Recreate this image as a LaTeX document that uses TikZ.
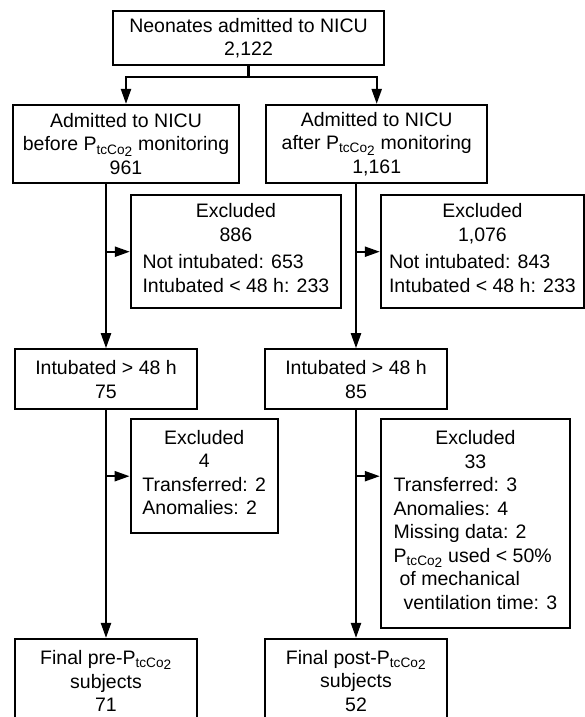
\documentclass[tikz,border=0pt]{standalone}
\usepackage{fontspec}
\setmainfont{Liberation Sans}
\usepackage{tikz}
\usetikzlibrary{arrows.meta, positioning}
\newcommand{\ptco}{P\textsubscript{tcCo\raisebox{-0.3ex}{2}}}
\newcommand{\reasons}[1]{\begin{tabular}[t]{@{}l@{}}#1\end{tabular}}

\begin{document}
\begin{tikzpicture}[
    x=1pt, y=-1pt,
    font=\fontsize{19.5}{23.5}\selectfont,
    box/.style={draw, line width=2.2pt, align=center, inner sep=0pt},
    arrow/.style={-{Triangle[length=15pt, width=10pt]}, line width=2.2pt},
    link/.style={line width=2.2pt}
]
\useasboundingbox (0,0) rectangle (585,717);

% All admissions
\node[box, minimum width=271pt, minimum height=54pt] (total) at (248.5,38) {Neonates admitted to NICU\\2,122};

% Periods
\node[box, minimum width=226pt, minimum height=78pt] (before) at (126,144) {Admitted to NICU\\before \ptco{} monitoring\\961};
\node[box, minimum width=221pt, minimum height=78pt] (after) at (376.7,144) {Admitted to NICU\\after \ptco{} monitoring\\1,161};

% First exclusions
\node[box, minimum width=210pt, minimum height=113pt] (exbefore) at (235.9,251.7) {Excluded\\886\\[4pt]\reasons{Not intubated: 653\\Intubated < 48 h: 233}};
\node[box, minimum width=203pt, minimum height=113pt] (exafter) at (482.4,251.7) {Excluded\\1,076\\[4pt]\reasons{Not intubated: 843\\Intubated < 48 h: 233}};

% Intubated
\node[box, minimum width=182pt, minimum height=60pt] (intbefore) at (106,379.3) {Intubated > 48 h\\75};
\node[box, minimum width=182pt, minimum height=60pt] (intafter) at (356,379.3) {Intubated > 48 h\\85};

% Second exclusions
\node[box, minimum width=147pt, minimum height=114pt] (exintbefore) at (204.2,476.2) {Excluded\\4\\\reasons{Transferred: 2\\Anomalies: 2}};
\node[box, minimum width=189pt, minimum height=209pt] (exintafter) at (475.4,523.7) {Excluded\\33\\\reasons{Transferred: 3\\Anomalies: 4\\Missing data: 2\\\ptco{} used < 50\%\\\hspace*{6pt}of mechanical\\\hspace*{10pt}ventilation time: 3}};

% Final groups
\node[box, minimum width=182pt, minimum height=84pt] (finalbefore) at (106,681) {Final pre-\ptco\\subjects\\71};
\node[box, minimum width=182pt, minimum height=84pt] (finalafter) at (356,681) {Final post-\ptco\\subjects\\52};

% Arrows
\draw[link] (total.south) -- ++(0,11) coordinate (split);
\draw[arrow] (split) -| (before.north);
\draw[arrow] (split) -| (after.north);

\draw[arrow] (before.south -| intbefore.north) -- (intbefore.north);
\draw[arrow] (exbefore.west -| intbefore.north) -- (exbefore.west);
\draw[arrow] (intbefore.south) -- (finalbefore.north);
\draw[arrow] (exintbefore.west -| intbefore.south) -- (exintbefore.west);

\draw[arrow] (after.south -| intafter.north) -- (intafter.north);
\draw[arrow] (exafter.west -| intafter.north) -- (exafter.west);
\draw[arrow] (intafter.south) -- (finalafter.north);
\draw[arrow] (exintbefore.west -| intafter.south) -- (exintbefore.west -| exintafter.west);

\end{tikzpicture}
\end{document}
